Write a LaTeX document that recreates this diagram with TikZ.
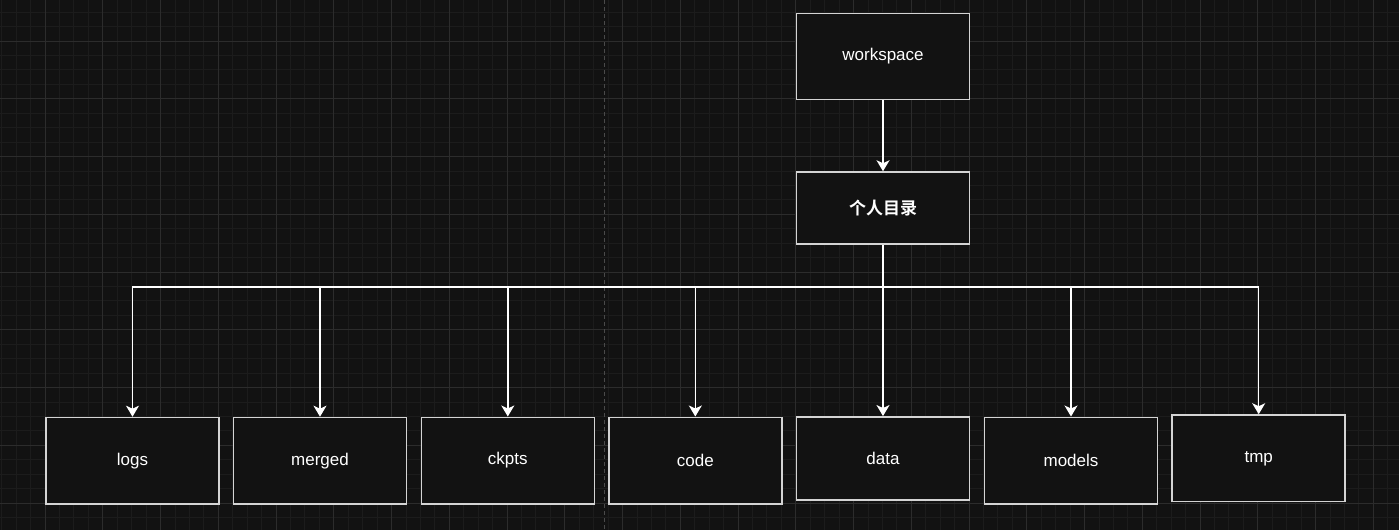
\documentclass[tikz,border=0pt]{standalone}
\usepackage{fontspec}
\setmainfont{Liberation Sans}
\newfontfamily\cjk{Noto Sans CJK SC}[BoldFont={Noto Sans CJK SC Bold}]
\usetikzlibrary{arrows.meta}
\definecolor{bgc}{HTML}{121212}
\definecolor{gridminor}{HTML}{1C1C1C}
\definecolor{gridmajor}{HTML}{2C2C2C}
\definecolor{boxline}{HTML}{D4D4D4}
\definecolor{pagebreak}{HTML}{4A4A4A}
\tikzset{
  dirbox/.style={draw=boxline, fill=bgc, line width=1.5pt, minimum width=173pt, minimum height=86pt, inner sep=0pt, text=white, font=\fontsize{17}{20}\selectfont},
  link/.style={draw=white, line width=1.4pt},
  arrowlink/.style={link, -{Stealth[length=11pt,width=13pt,inset=3pt,fill=white]}}
}
\begin{document}
\begin{tikzpicture}[x=1pt,y=-1pt]
\fill[bgc] (0,0) rectangle (1399,530);
\useasboundingbox (0,0) rectangle (1399,530);
% minor grid
\foreach \i in {-4,...,94} {
  \draw[gridminor, line width=0.8pt] ({45+14.4375*\i},0) -- ({45+14.4375*\i},530);
}
\foreach \i in {-3,...,34} {
  \draw[gridminor, line width=0.8pt] (0,{41+14.4375*\i}) -- (1399,{41+14.4375*\i});
}
% major grid
\foreach \i in {-1,...,24} {
  \draw[gridmajor, line width=1pt] ({45+57.75*\i},0) -- ({45+57.75*\i},530);
}
\foreach \i in {-1,...,9} {
  \draw[gridmajor, line width=1pt] (0,{41+57.75*\i}) -- (1399,{41+57.75*\i});
}
% page break line
\draw[pagebreak, line width=1pt, dash pattern=on 4pt off 3pt] (604.7,0) -- (604.7,530);

% nodes
\node[dirbox] (ws) at (883,56.5) {workspace};
\node[dirbox, minimum height=72pt] (home) at (883,208) {\cjk\bfseries 个人目录};
\node[dirbox, minimum height=86.5pt] (logs) at (132.5,460.7) {logs};
\node[dirbox, minimum height=86.5pt] (merged) at (320,460.7) {merged};
\node[dirbox, minimum height=86.5pt] (ckpts) at (507.8,460.5) {ckpts};
\node[dirbox, minimum height=86.5pt] (code) at (695.3,460.5) {code};
\node[dirbox, minimum height=83pt] (data) at (883,458.3) {data};
\node[dirbox, minimum height=86.5pt] (models) at (1071,460.5) {models};
\node[dirbox, minimum height=86.7pt] (tmp) at (1258.7,458.3) {tmp};

\coordinate (bus) at (883,287);
\draw[arrowlink] (ws) -- (home);
\foreach \n in {logs,merged,ckpts,code,data,models,tmp} {
  \draw[arrowlink] (home.south) -- (bus) -| (\n.north);
}
\end{tikzpicture}
\end{document}
